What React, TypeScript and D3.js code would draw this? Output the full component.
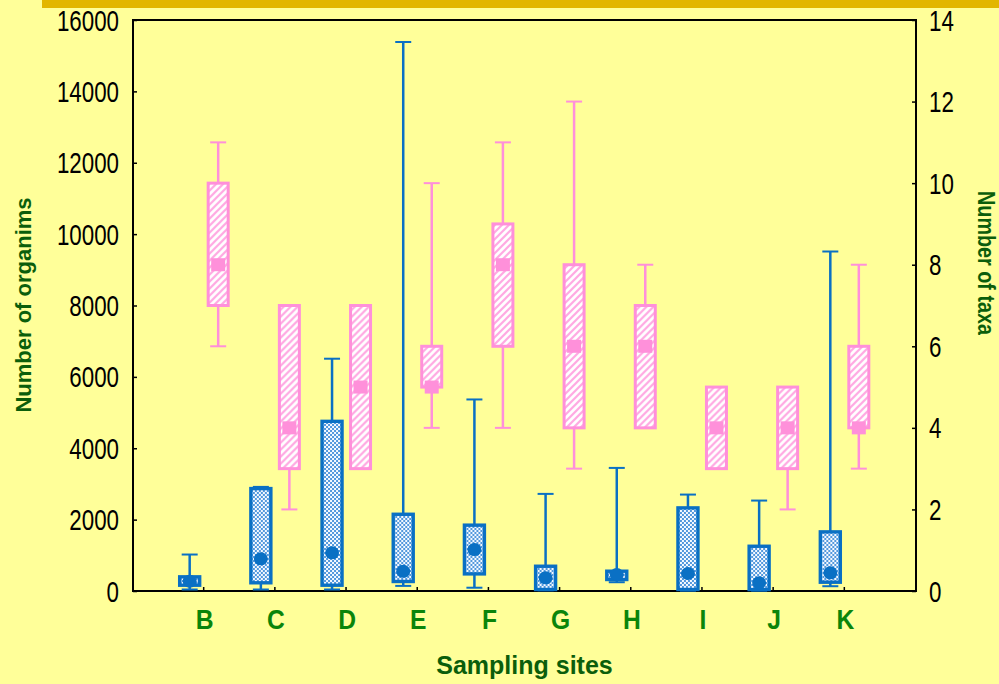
import React, { useRef, useEffect } from 'react';
import * as d3 from 'd3';

// sampling sites
const sites = ['B', 'C', 'D', 'E', 'F', 'G', 'H', 'I', 'J', 'K'];

// Number of organisms (left axis): min, q1, median, q3, max
const orgMin = [42, 42, 42, 143, 92, 20, 246, 10, 10, 134];
const orgQ1 = [162, 230, 162, 266, 479, 42, 322, 42, 40, 246];
const orgMed = [274, 901, 1069, 552, 1162, 370, 462, 490, 230, 509];
const orgQ3 = [397, 2870, 4754, 2150, 1845, 694, 555, 2329, 1254, 1657];
const orgMax = [1022, 2917, 6509, 15384, 5367, 2721, 3449, 2702, 2534, 9513];

// Number of taxa (right axis)
const taxaMin = [6, 2, 3, 4, 4, 3, 4, 3, 2, 3];
const taxaQ1 = [7, 3, 3, 5, 6, 4, 4, 3, 3, 4];
const taxaMed = [8, 4, 5, 5, 8, 6, 6, 4, 4, 4];
const taxaQ3 = [10, 7, 7, 6, 9, 8, 7, 5, 5, 6];
const taxaMax = [11, 7, 7, 10, 11, 12, 8, 5, 5, 8];

const leftTicks = [0, 2000, 4000, 6000, 8000, 10000, 12000, 14000, 16000];
const rightTicks = [0, 2, 4, 6, 8, 10, 12, 14];

const BLUE = '#0A70C4';
const PINK = '#FF90DA';

const Chart = () => {
  const svgRef = useRef(null);
  const width = 999;
  const height = 684;

  useEffect(() => {
    const svg = d3.select(svgRef.current);
    svg.selectAll('*').remove();

    const margin = { top: 20, right: 83, bottom: 93, left: 133 };
    const x0 = margin.left;
    const x1 = width - margin.right;
    const y0 = height - margin.bottom;
    const y1 = margin.top;

    const x = d3.scalePoint().domain(sites).range([x0, x1]).padding(1);
    const yLeft = d3.scaleLinear().domain([0, 16000]).range([y0, y1]);
    const yRight = d3.scaleLinear().domain([0, 14]).range([y0, y1]);

    // patterns
    const defs = svg.append('defs');
    const dots = defs.append('pattern')
      .attr('id', 'blueDots')
      .attr('patternUnits', 'userSpaceOnUse')
      .attr('width', 4)
      .attr('height', 4);
    dots.append('rect').attr('width', 4).attr('height', 4).attr('fill', '#F4F9FF');
    dots.append('rect').attr('width', 2).attr('height', 2).attr('fill', '#5398DC');
    dots.append('rect').attr('x', 2).attr('y', 2).attr('width', 2).attr('height', 2).attr('fill', '#5398DC');

    const hatch = defs.append('pattern')
      .attr('id', 'pinkHatch')
      .attr('patternUnits', 'userSpaceOnUse')
      .attr('width', 7)
      .attr('height', 7);
    hatch.append('rect').attr('width', 7).attr('height', 7).attr('fill', '#ffffff');
    hatch.append('path')
      .attr('d', 'M-1,8 L8,-1 M-2,2 L2,-2 M5,9 L9,5')
      .attr('stroke', '#FFA8E2')
      .attr('stroke-width', 2.2);

    // background
    svg.append('rect').attr('width', width).attr('height', height).attr('fill', '#FFFF99');
    svg.append('rect').attr('x', 42).attr('y', 0).attr('width', width - 42).attr('height', 8).attr('fill', '#E2B600');

    // frame
    svg.append('rect')
      .attr('x', x0).attr('y', y1)
      .attr('width', x1 - x0).attr('height', y0 - y1)
      .attr('fill', 'none')
      .attr('stroke', '#000')
      .attr('stroke-width', 2);

    const styleAxis = (g, dx, anchor) => {
      g.select('.domain').remove();
      g.selectAll('.tick line').attr('stroke', '#000').attr('stroke-width', 1.5);
      g.selectAll('.tick text')
        .attr('x', null)
        .attr('dy', null)
        .attr('fill', '#000')
        .attr('font-family', '"Liberation Sans", Arial, sans-serif')
        .attr('font-size', 29)
        .attr('text-anchor', anchor)
        .attr('dominant-baseline', 'central')
        .attr('transform', `translate(${dx},0) scale(0.77,1)`);
    };

    svg.append('g')
      .attr('transform', `translate(${x0},0)`)
      .call(d3.axisLeft(yLeft).tickValues(leftTicks).tickSize(-4).tickFormat(d3.format('d')))
      .call(g => styleAxis(g, -14, 'end'));

    svg.append('g')
      .attr('transform', `translate(${x1},0)`)
      .call(d3.axisRight(yRight).tickValues(rightTicks).tickSize(-4).tickFormat(d3.format('d')))
      .call(g => styleAxis(g, 13, 'start'));

    const xAxis = svg.append('g')
      .attr('transform', `translate(0,${y0})`)
      .call(d3.axisBottom(x).tickSize(-4));
    xAxis.select('.domain').remove();
    xAxis.selectAll('.tick line').attr('stroke', '#000').attr('stroke-width', 1.5).attr('transform', 'translate(-1,0)');
    xAxis.selectAll('.tick text')
      .attr('y', null)
      .attr('dy', null)
      .attr('fill', '#0A850A')
      .attr('font-family', '"Liberation Sans", Arial, sans-serif')
      .attr('font-weight', 'bold')
      .attr('font-size', 28)
      .attr('text-anchor', 'middle')
      .attr('dominant-baseline', 'central')
      .attr('transform', 'translate(0,28) scale(0.88,1)');

    // box plots
    const boxW = 20;
    const capW = 16;
    const drawBoxes = (cls, offset, scale, mins, q1s, meds, q3s, maxs, color, fill, isBlue) => {
      const data = sites.map((s, i) => ({
        s, min: mins[i], q1: q1s[i], med: meds[i], q3: q3s[i], max: maxs[i]
      }));
      const g = svg.append('g').attr('class', cls);
      const item = g.selectAll('g').data(data).enter().append('g')
        .attr('transform', d => `translate(${x(d.s) + offset},0)`);

      item.append('line')
        .attr('y1', d => scale(d.max)).attr('y2', d => scale(d.q3))
        .attr('stroke', color).attr('stroke-width', 2.5);
      item.append('line')
        .attr('y1', d => scale(d.q1)).attr('y2', d => scale(d.min))
        .attr('stroke', color).attr('stroke-width', 2.5);
      item.append('line')
        .attr('x1', -capW / 2).attr('x2', capW / 2)
        .attr('y1', d => scale(d.max)).attr('y2', d => scale(d.max))
        .attr('stroke', color).attr('stroke-width', 2);
      item.append('line')
        .attr('x1', -capW / 2).attr('x2', capW / 2)
        .attr('y1', d => scale(d.min)).attr('y2', d => scale(d.min))
        .attr('stroke', color).attr('stroke-width', 2);
      item.append('rect')
        .attr('x', -boxW / 2)
        .attr('y', d => scale(d.q3))
        .attr('width', boxW)
        .attr('height', d => Math.max(scale(d.q1) - scale(d.q3), 1))
        .attr('fill', fill)
        .attr('stroke', color)
        .attr('stroke-width', isBlue ? 3.4 : 3);
      if (isBlue) {
        item.append('ellipse')
          .attr('cy', d => scale(d.med))
          .attr('rx', 7).attr('ry', 6.5)
          .attr('fill', color);
      } else {
        item.append('rect')
          .attr('x', -7)
          .attr('y', d => scale(d.med) - 6.5)
          .attr('width', 14).attr('height', 13)
          .attr('fill', color);
      }
    };

    drawBoxes('organisms', -14.5, yLeft, orgMin, orgQ1, orgMed, orgQ3, orgMax, BLUE, 'url(#blueDots)', true);
    drawBoxes('taxa', 14, yRight, taxaMin, taxaQ1, taxaMed, taxaQ3, taxaMax, PINK, 'url(#pinkHatch)', false);

    // axis titles
    const titleFont = '"Liberation Sans", Arial, sans-serif';
    svg.append('text')
      .attr('transform', `translate(${(x0 + x1) / 2},665)`)
      .attr('text-anchor', 'middle')
      .attr('dominant-baseline', 'central')
      .attr('font-family', titleFont)
      .attr('font-weight', 'bold')
      .attr('font-size', 25)
      .attr('fill', '#0B5E0B')
      .text('Sampling sites');

    svg.append('text')
      .attr('transform', `translate(23,305) rotate(-90)`)
      .attr('text-anchor', 'middle')
      .attr('dominant-baseline', 'central')
      .attr('font-family', titleFont)
      .attr('font-weight', 'bold')
      .attr('font-size', 22)
      .attr('fill', '#0B5E0B')
      .text('Number of organims');

    svg.append('text')
      .attr('transform', `translate(986,263) rotate(90) scale(0.86,1)`)
      .attr('text-anchor', 'middle')
      .attr('dominant-baseline', 'central')
      .attr('font-family', titleFont)
      .attr('font-weight', 'bold')
      .attr('font-size', 23)
      .attr('fill', '#0B5E0B')
      .text('Number of taxa');
  }, []);

  return (
    <svg
      ref={svgRef}
      width={width}
      height={height}
      style={{ position: 'fixed', left: 0, top: 0, display: 'block' }}
    ></svg>
  );
};

export default function App() {
  return <Chart />;
}
